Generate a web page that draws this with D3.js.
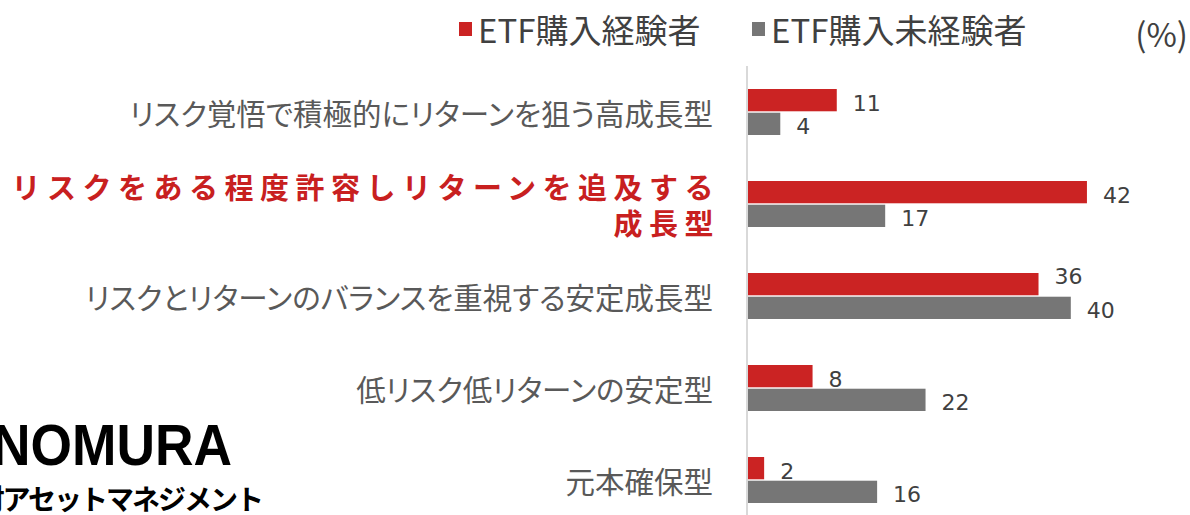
<!DOCTYPE html>
<html>
<head>
<meta charset="utf-8">
<script src="https://cdn.jsdelivr.net/npm/d3@7"></script>
<style>
  body { margin: 0; background: #fff; }
  svg { display: block; }
  .cat { font-family: "Noto Sans CJK JP", sans-serif; font-feature-settings: "palt"; fill: #595959; }
  .val { font-family: "DejaVu Sans", sans-serif; fill: #404040; }
</style>
</head>
<body>
<svg width="1190" height="515"></svg>
<script>
// categories, top to bottom
let categories = [
  "リスク覚悟で積極的にリターンを狙う高成長型",
  "リスクをある程度許容しリターンを追及する成長型",
  "リスクとリターンのバランスを重視する安定成長型",
  "低リスク低リターンの安定型",
  "元本確保型"
];
// the highlighted category is split over two lines
let highlightLines = ["リスクをある程度許容しリターンを追及する", "成長型"];
let highlightIndex = 1;

let seriesNames = ["ETF購入経験者", "ETF購入未経験者"];
let experienced = [11, 42, 36, 8, 2];
let inexperienced = [4, 17, 40, 22, 16];
let seriesColors = ["#cb2323", "#767676"];

let svg = d3.select("svg");

// scales
let y = d3.scaleBand()
  .domain(categories)
  .range([66, 526])
  .paddingInner(0.5)
  .paddingOuter(0.25);

let ySub = d3.scaleBand()
  .domain(seriesNames)
  .range([0, y.bandwidth()])
  .paddingInner(0.06);

let x = d3.scaleLinear()
  .domain([0, 50])
  .range([747, 747 + 403.5]);

// vertical axis line
let yAxis = d3.axisLeft(y).tickSize(0).tickFormat("");
let yGroup = svg.append("g")
  .attr("transform", "translate(" + x(0) + ",0)")
  .call(yAxis);
yGroup.select(".domain")
  .attr("d", "M0,66V515")
  .attr("stroke", "#d9d9d9")
  .attr("stroke-width", 2);

// bars
let rows = categories.map((c, i) => ({
  cat: c,
  values: [experienced[i], inexperienced[i]]
}));

let groups = svg.selectAll("g.row")
  .data(rows)
  .enter().append("g")
  .attr("class", "row")
  .attr("transform", d => "translate(0," + y(d.cat) + ")");

groups.selectAll("rect")
  .data(d => d.values.map((v, j) => ({ s: seriesNames[j], v: v, j: j })))
  .enter().append("rect")
  .attr("x", x(0) + 1)
  .attr("y", d => ySub(d.s))
  .attr("width", d => x(d.v) - x(0))
  .attr("height", ySub.bandwidth())
  .attr("fill", d => seriesColors[d.j]);

// value labels; nudge the red label up if it sits close to the grey one
groups.each(function(d) {
  let g = d3.select(this);
  let close = Math.abs(x(d.values[1]) - x(d.values[0])) < 45;
  d.values.forEach((v, j) => {
    let dy = 3;
    if (j == 0 && close) dy = -8;
    g.append("text")
      .attr("class", "val")
      .attr("x", x(v) + 17)
      .attr("y", ySub(seriesNames[j]) + ySub.bandwidth() / 2 + dy)
      .attr("dominant-baseline", "central")
      .attr("font-size", 22)
      .text(v);
  });
});

// category labels
categories.forEach((c, i) => {
  let cy = y(c) + y.bandwidth() / 2;
  if (i == highlightIndex) {
    let t = svg.append("text")
      .attr("text-anchor", "end")
      .attr("font-family", "'Noto Sans CJK JP', sans-serif")
      .attr("font-weight", "bold")
      .attr("font-size", 29)
      .attr("letter-spacing", 6.5)
      .attr("fill", "#c8201f");
    highlightLines.forEach((line, k) => {
      t.append("tspan")
        .attr("x", 720)
        .attr("y", cy + (k - 0.5) * 36)
        .attr("dominant-baseline", "central")
        .text(line);
    });
  } else {
    svg.append("text")
      .attr("class", "cat")
      .attr("x", 713)
      .attr("y", cy)
      .attr("text-anchor", "end")
      .attr("dominant-baseline", "central")
      .attr("font-size", 29.5)
      .text(c);
  }
});

// legend
let legendX = [459, 752];
seriesNames.forEach((s, j) => {
  svg.append("rect")
    .attr("x", legendX[j])
    .attr("y", 22)
    .attr("width", 13)
    .attr("height", 14)
    .attr("fill", seriesColors[j]);
  svg.append("text")
    .attr("class", "cat")
    .attr("x", legendX[j] + 19)
    .attr("y", 29)
    .attr("dominant-baseline", "central")
    .attr("font-size", 33)
    .style("fill", "#404040")
    .text(s);
});

svg.append("text")
  .attr("class", "cat")
  .attr("x", 1188)
  .attr("y", 33)
  .attr("text-anchor", "end")
  .attr("dominant-baseline", "central")
  .attr("font-size", 33)
  .style("fill", "#404040")
  .text("(%)");

// company logo (cut off at the left edge)
svg.append("text")
  .attr("x", -8)
  .attr("y", 444)
  .attr("dominant-baseline", "central")
  .attr("font-family", "'Liberation Sans', Arial, sans-serif")
  .attr("font-weight", "bold")
  .attr("font-size", 58)
  .attr("textLength", 240)
  .attr("lengthAdjust", "spacingAndGlyphs")
  .attr("fill", "#000")
  .text("NOMURA");

svg.append("text")
  .attr("x", 262)
  .attr("y", 498)
  .attr("text-anchor", "end")
  .attr("dominant-baseline", "central")
  .attr("font-family", "'Noto Sans CJK JP', sans-serif")
  .attr("font-weight", "bold")
  .attr("font-size", 28)
  .attr("letter-spacing", -2)
  .attr("fill", "#000")
  .text("野村アセットマネジメント");
</script>
</body>
</html>
